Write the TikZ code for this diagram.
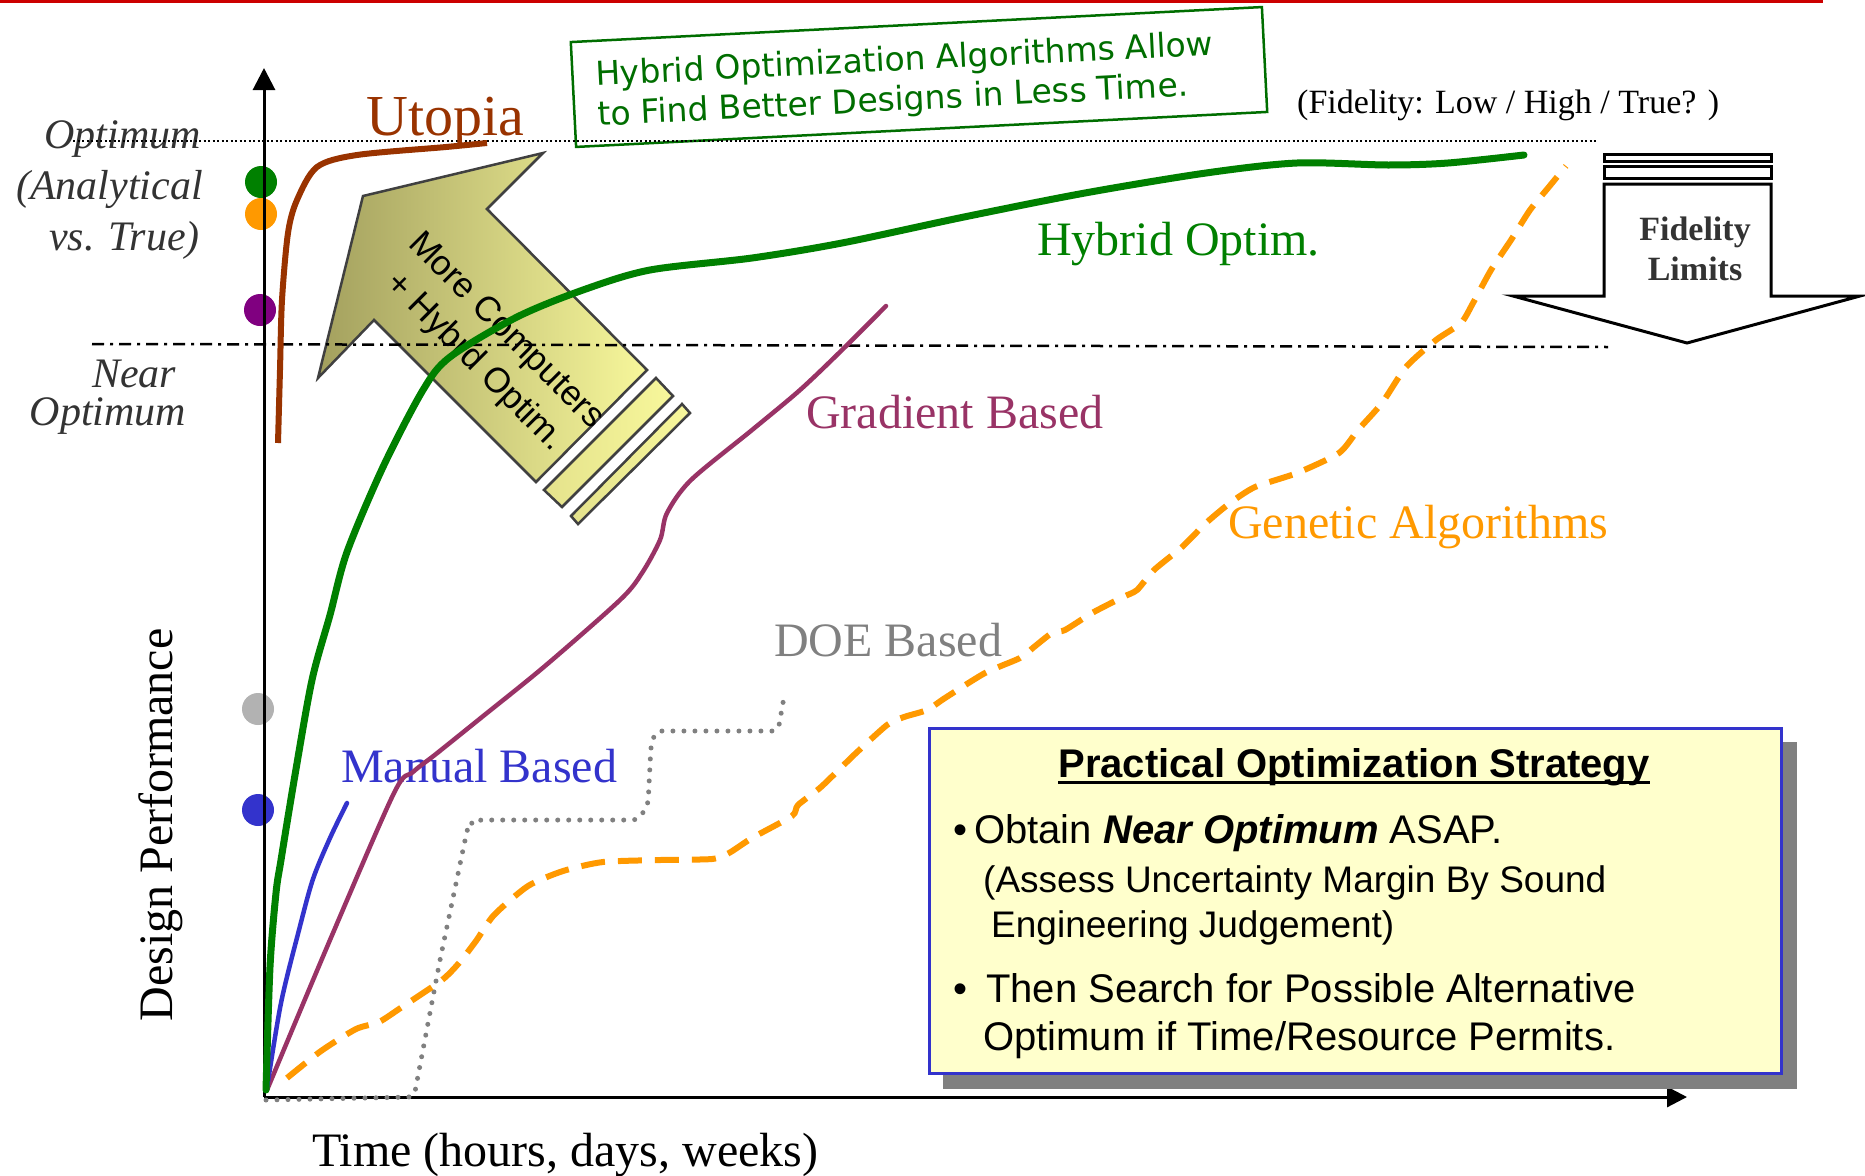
\documentclass[tikz,border=0pt]{standalone}
\usepackage{fontspec}
\setmainfont{Liberation Serif}
\newfontfamily\arialf{Liberation Sans}
\newfontfamily\comicf{DejaVu Sans}
\usetikzlibrary{arrows.meta}
\definecolor{topred}{RGB}{204,0,0}
\definecolor{cgreen}{RGB}{0,128,0}
\definecolor{cbrown}{RGB}{153,51,0}
\definecolor{cpurple}{RGB}{153,51,102}
\definecolor{cblue}{RGB}{51,51,204}
\definecolor{corange}{RGB}{255,153,0}
\definecolor{cgray}{RGB}{128,128,128}
\definecolor{dotgray}{RGB}{178,178,178}
\definecolor{dotpurple}{RGB}{128,0,128}
\definecolor{boxgreen}{RGB}{0,110,0}
\definecolor{txtgray}{RGB}{51,51,51}
\definecolor{olivedark}{RGB}{163,160,94}
\definecolor{paleyel}{RGB}{247,247,155}
\definecolor{stripeyel}{RGB}{240,238,148}
\definecolor{boxyel}{RGB}{255,255,204}
\definecolor{boxblue}{RGB}{51,51,204}
\definecolor{shadowgray}{RGB}{128,128,128}
\definecolor{arrowline}{RGB}{64,64,64}
\begin{document}
\begin{tikzpicture}[x=1pt,y=-1pt,
  sidelbl/.style={inner sep=0pt, font=\itshape\fontsize{42}{50}\selectfont, text=txtgray},
  curvelbl/.style={inner sep=0pt, anchor=base west, font=\fontsize{48}{58}\selectfont},
  comic/.style={inner sep=0pt, anchor=base west, rotate=2.9, font=\comicf\fontsize{33}{39}\selectfont, text=boxgreen},
  boxtxt/.style={inner sep=0pt, anchor=base west, font=\arialf\fontsize{40}{48}\selectfont},
  boxsmall/.style={inner sep=0pt, anchor=base west, font=\arialf\fontsize{37}{44}\selectfont},
  fidlbl/.style={inner sep=0pt, anchor=base, font=\bfseries\fontsize{34}{40}\selectfont, text=txtgray},
  dotmark/.style={circle, inner sep=0pt, minimum size=32pt},
  bigarrow/.style={draw=arrowline, line width=2.5pt, line join=miter},
  curve/.style={line cap=round, line join=round}
]
\useasboundingbox (0,0) rectangle (1865,1175);
\fill[white] (0,0) rectangle (1865,1175);
% top red rule
\fill[topred] (0,0) rectangle (1823,3);

% big arrow "More Computers"
\draw[bigarrow, left color=olivedark, right color=paleyel]
  (363,196) -- (543,153) -- (487,209) -- (647,370) -- (536,482) -- (374,320) -- (318,378) -- cycle;
\draw[bigarrow, left color=stripeyel!85!olivedark, right color=paleyel]
  (656,378) -- (673,396) -- (562,507) -- (544,490) -- cycle;
\draw[bigarrow, left color=stripeyel!85!olivedark, right color=paleyel]
  (682,404) -- (690,413) -- (578,524) -- (571,516) -- cycle;
\node[rotate=-45, align=center, inner sep=0pt, font=\arialf\fontsize{35}{44}\selectfont] (mc) at (490,347) {More Computers\\+ Hybrd Optim.};

% green statement box
\node[draw=boxgreen, line width=2.5pt, rotate=2.9, minimum width=692pt, minimum height=105pt, inner sep=0pt] (hybox) at (919,77) {};
\node[comic] (hyl1) at (596,86) {Hybrid Optimization Algorithms Allow};
\node[comic] (hyl2) at (598,126) {to Find Better Designs in Less Time.};

% fidelity text and arrow
\node[inner sep=0pt, anchor=base west, font=\fontsize{34}{40}\selectfont] (fidtxt) at (1297,113) {(Fidelity: Low / High / True? )};
\draw[line width=3pt, fill=white] (1604,154) rectangle (1771,161);
\draw[line width=3pt, fill=white] (1604,166) rectangle (1771,178);
\draw[line width=3pt, fill=white, line join=miter]
  (1604,184) -- (1771,184) -- (1771,296) -- (1860,296) -- (1687,343) -- (1513,296) -- (1604,296) -- cycle;
\node[fidlbl] (fid1) at (1695,240) {Fidelity};
\node[fidlbl] (fid2) at (1695,280) {Limits};

% side labels
\node[sidelbl, anchor=base east] (lopt) at (201,148) {Optimum};
\node[sidelbl, anchor=base east] (lana) at (203,199) {(Analytical};
\node[sidelbl, anchor=base east] (ltrue) at (200,250) {vs. True)};
\node[sidelbl, anchor=base] (lnear) at (134,387) {Near};
\node[sidelbl, anchor=base] (lnopt) at (108,425) {Optimum};

% reference lines
\draw[line width=2pt, dash pattern=on 2pt off 2.5pt] (73,141) -- (1596,141);
\draw[line width=2.5pt, dash pattern=on 12pt off 6pt on 3pt off 6pt] (92,344) -- (1608,347);

% dots on the axis
\node[dotmark, fill=cgreen] (dg) at (261,182) {};
\node[dotmark, fill=corange] (do) at (261,214) {};
\node[dotmark, fill=dotpurple] (dp) at (260,310) {};
\node[dotmark, fill=dotgray] (dgr) at (258,709) {};
\node[dotmark, fill=cblue] (db) at (258,810) {};

% axes
\coordinate (O) at (264,1097);
\coordinate (ytop) at (264,68);
\coordinate (xend) at (1687,1097);
\draw[line width=3pt, -{Triangle[length=22pt,width=22pt]}] (O) -- (ytop);
\draw[line width=3pt, -{Triangle[length=20pt,width=20pt]}] (O) -- (xend);

% axis titles
\node[inner sep=0pt, anchor=base, rotate=90, font=\fontsize{48}{58}\selectfont] (ylab) at (172,825) {Design Performance};
\node[curvelbl] (xlab) at (312,1166) {Time (hours, days, weeks)};

% curve labels
\node[curvelbl, text=cbrown, font=\fontsize{58}{66}\selectfont] (lutop) at (366,135) {Utopia};
\node[curvelbl, text=cgreen] (lhyb) at (1037,255) {Hybrid Optim.};
\node[curvelbl, text=cpurple] (lgrad) at (806,428) {Gradient Based};
\node[curvelbl, text=corange] (lgen) at (1228,538) {Genetic Algorithms};
\node[curvelbl, text=cgray] (ldoe) at (774,656) {DOE Based};
\node[curvelbl, text=cblue] (lman) at (341,782) {Manual Based};

% DOE (dotted)
\draw[cgray, line width=5pt, dash pattern=on 0pt off 11pt, line cap=round, rounded corners=6pt]
  (266,1100) -- (414,1097) -- (440,960) -- (468,826) -- (476,820) -- (638,820) -- (648,805) -- (651,745) -- (656,731) -- (778,731) -- (784,697);

% Genetic (dashed)
\draw[corange, line width=6pt, dash pattern=on 24pt off 13pt]
  plot[smooth, tension=0.4] coordinates {(287,1078) (321,1051) (356,1029) (379,1022) (402,1007) (442,980) (459,963) (476,941) (494,915) (528,886) (563,871) (603,862) (660,860) (712,859) (729,853) (752,838) (792,816) (798,805) (821,787) (855,754) (887,725) (904,717) (927,710) (945,698) (985,673) (1020,658) (1034,647) (1052,633) (1065,630) (1092,613) (1123,597) (1137,590) (1154,570) (1182,547) (1206,523) (1230,503) (1255,487) (1297,473) (1339,453) (1358,430) (1382,403) (1406,367) (1436,340) (1461,323) (1473,303) (1491,270) (1511,240) (1530,210) (1548,188) (1566,166)};

% Gradient
\draw[cpurple, line width=4.5pt, curve]
  plot[smooth, tension=0.5] coordinates {(267,1090) (330,940) (394,793) (413,772) (436,754) (482,717) (545,666) (620,600) (642,573) (660,540) (667,513) (691,480) (752,430) (800,390) (842,350) (886,306)};

% Manual
\draw[cblue, line width=4.5pt, curve]
  plot[smooth, tension=0.5] coordinates {(267,1088) (281,1003) (299,930) (313,879) (330,838) (347,803)};

% Hybrid
\draw[cgreen, line width=7pt, curve]
  plot[smooth, tension=0.5] coordinates {(266,1090) (270,967) (276,893) (281,860) (295,775) (312,680) (330,615) (347,552) (383,467) (423,390) (450,357) (517,317) (583,290) (650,270) (752,258) (842,243) (964,217) (1085,193) (1206,173) (1297,163) (1388,165) (1448,163) (1524,155)};

% Utopia
\draw[cbrown, line width=6pt]
  plot[smooth, tension=0.5] coordinates {(278,443) (280,370) (282,300) (288,233) (297,200) (317,167) (357,155) (446,147) (487,143)};

% strategy box
\fill[shadowgray] (943,742) rectangle (1797,1089);
\node[draw=boxblue, line width=3pt, fill=boxyel, minimum width=852pt, minimum height=345pt, anchor=north west, inner sep=0pt] (pbox) at (928,727) {};
\node[boxtxt, anchor=base, font=\arialf\bfseries\fontsize{40}{48}\selectfont] (ttl) at (1354,777) {Practical Optimization Strategy};
\draw[line width=3pt] ([yshift=-5pt]ttl.base west) -- ([yshift=-5pt]ttl.base east);
\node[boxtxt] (b1) at (953,843) {•};
\node[boxtxt] (t1) at (974,843) {Obtain \textbf{\textit{Near Optimum}} ASAP.};
\node[boxsmall] (t2) at (983,892) {(Assess Uncertainty Margin By Sound};
\node[boxsmall] (t3) at (991,937) {Engineering Judgement)};
\node[boxtxt] (b2) at (953,1002) {•};
\node[boxtxt] (t4) at (986,1002) {Then Search for Possible Alternative};
\node[boxtxt] (t5) at (983,1050) {Optimum if Time/Resource Permits.};
\end{tikzpicture}
\end{document}
